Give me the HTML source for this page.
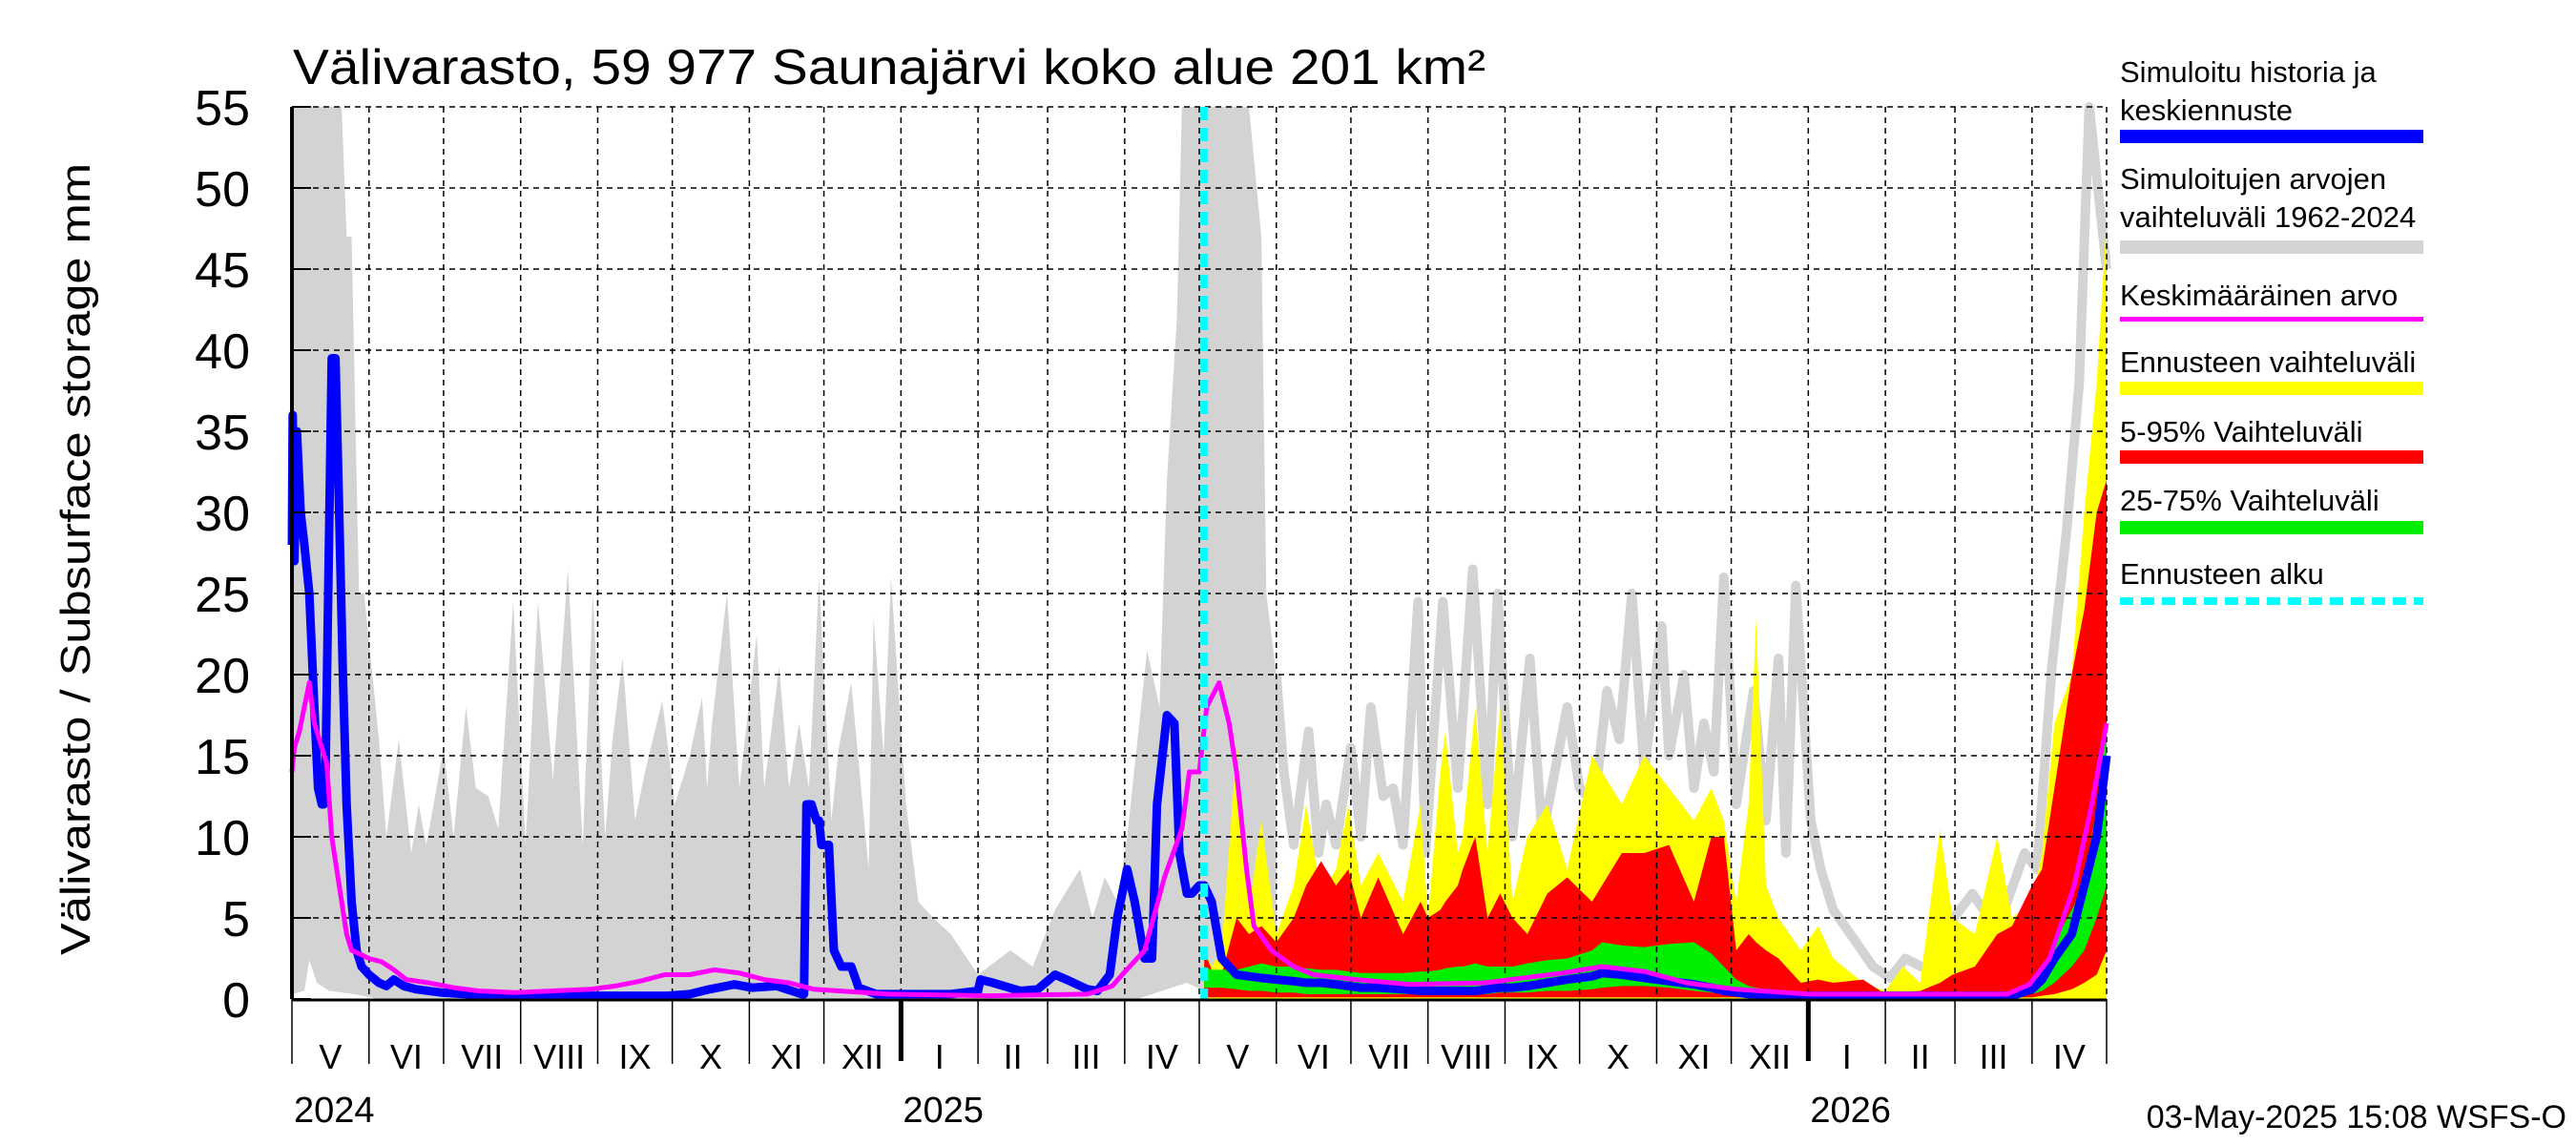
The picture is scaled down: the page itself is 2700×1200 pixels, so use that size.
<!DOCTYPE html>
<html><head><meta charset="utf-8"><style>
html,body{margin:0;padding:0;background:#fff;}
svg{display:block;font-family:"Liberation Sans",Arial,sans-serif;}
</style></head><body>
<svg id="chart" width="2700" height="1200" viewBox="0 0 2700 1200" xmlns="http://www.w3.org/2000/svg">
<rect width="2700" height="1200" fill="#fff"/>
<text x="307" y="88" font-size="52" textLength="1250" lengthAdjust="spacingAndGlyphs">Välivarasto, 59 977 Saunajärvi koko alue 201 km²</text>
<text transform="translate(94,586) rotate(-90)" text-anchor="middle" font-size="44" textLength="830" lengthAdjust="spacingAndGlyphs">Välivarasto / Subsurface storage  mm</text>
<g id="fills"></g><g id="grid"></g><g id="lines"></g><g id="axes"></g>
<g id="legend">
<text x="2222" y="86" font-size="31">Simuloitu historia ja</text>
<text x="2222" y="126" font-size="31">keskiennuste</text>
<rect x="2222" y="136" width="318" height="14" fill="#0000ff"/>
<text x="2222" y="198" font-size="31">Simuloitujen arvojen</text>
<text x="2222" y="238" font-size="31">vaihteluväli 1962-2024</text>
<rect x="2222" y="252" width="318" height="14" fill="#d3d3d3"/>
<text x="2222" y="320" font-size="31">Keskimääräinen arvo</text>
<rect x="2222" y="332" width="318" height="5" fill="#ff00ff"/>
<text x="2222" y="390" font-size="31">Ennusteen vaihteluväli</text>
<rect x="2222" y="400" width="318" height="14" fill="#ffff00"/>
<text x="2222" y="463" font-size="31">5-95% Vaihteluväli</text>
<rect x="2222" y="472" width="318" height="14" fill="#ff0000"/>
<text x="2222" y="535" font-size="31">25-75% Vaihteluväli</text>
<rect x="2222" y="546" width="318" height="14" fill="#00ee00"/>
<text x="2222" y="612" font-size="31">Ennusteen alku</text>
<line x1="2222" y1="630" x2="2540" y2="630" stroke="#00ffff" stroke-width="8" stroke-dasharray="14,8"/>
</g>
<text x="2690" y="1182" text-anchor="end" font-size="34">03-May-2025 15:08 WSFS-O</text>
</svg>
<script>
// ---- data (x = days since 2024-05-01) ----
const yTicks = [0,5,10,15,20,25,30,35,40,45,50,55];
const monthNames = ["V","VI","VII","VIII","IX","X","XI","XII","I","II","III","IV","V","VI","VII","VIII","IX","X","XI","XII","I","II","III","IV"];
const monthStarts = [0,31,61,92,123,153,184,214,245,276,304,335,365,396,426,457,488,518,549,579,610,641,669,700,730];
const yearLabels = ["2024","2025","2026"];
const yearStarts = [0,245,610];
const forecastStartDay = 367;

const greyHistDays = [0,20,22,24,27,29,33,35,38,43,48,51,54,57,61,65,70,74,79,83,89,94,99,105,111,117,121,126,129,133,138,142,149,154,160,165,167,169,175,180,187,190,196,200,204,208,212,217,220,225,232,234,238,241,247,252,258,265,276,289,298,307,317,322,327,332,336,344,349,352,356,358,385,390,392,396];
const greyHistMax = [55,55,47,47,25,25,19,16,10,16,9,12,9.5,12,15.5,10,18,13,12.5,10.5,24.5,9.5,24.5,13.5,26.5,9.5,25,10,16,21,11,14,18.4,12,15,18.6,13,17,25,13,22.5,13,20.5,13,17,13,26,11,15.5,19.5,8,23.5,15,26,12,6,5,4,1.5,3,2,5.5,8,5,7.5,6,10,21.5,18,32,42,55,55,47,25,20];
const greyMinDays = [0,5,7,10,15,25,35,340,350,360,367,380,396];
const greyMinVals = [0.3,0.5,2.4,1,0.5,0.3,0,0,0.5,1,0.5,0.2,0];
const greyFcDays = [396,399,403,409,413,416,420,426,430,434,439,443,447,453,456,463,469,475,481,485,491,498,503,508,513,518,524,529,534,539,544,551,554,560,564,568,572,576,581,588,593,598,601,605,611,615,620,627,636,643,649,658,666,676,685,690,697,702,708,714,719,723,730];
const greyFcMax = [20,14,9.5,16.5,9,12,9.5,15.5,10,18,12.5,13,9.5,24.5,9,24.5,13,26.5,12,25,10,21,10,14,18,13,12,19,16,25,14,23,15,20,13,17,14,26,12,19,11,21,9,25.5,11,8,5.5,4,2,1.3,2.5,1.8,4.5,6.5,4.5,6,9,8,20.5,29,38,55,45];

const histDays = [0,0.3,1,2,3.5,5,7,9,10.5,12,12.8,13.5,16,17.5,19,20.5,22,24,26,28,31,35,38,41,45,50,60,70,85,100,120,140,151,160,168,178,185,195,205,206,207,209,211,212,213,216,218,221,225,228,235,250,265,276,277,282,293,300,307,313,320,324,329,332,336,339,343,346,348,352,355,357,360,362,365,367];
const histVals = [28,36,27,35,30,28,25,18,13,12,12,14,39.5,39.5,30,20,12,6,3,2,1.5,1,0.8,1.2,0.8,0.6,0.4,0.3,0.2,0.2,0.2,0.2,0.2,0.3,0.6,0.9,0.7,0.8,0.3,0.3,12,12,11,11,9.5,9.5,3,2,2,0.7,0.3,0.3,0.3,0.5,1.2,1.0,0.5,0.6,1.5,1.1,0.6,0.5,1.5,5,8,6,2.5,2.5,12,17.5,17,9,6.5,6.5,7,7];

const meanDays = [0,1,3,5,7,9,12,14,16,18,20,22,24,27,31,36,41,46,55,65,75,90,105,120,130,140,150,160,170,180,190,200,210,220,240,280,320,330,334,343,351,358,361,365,368,373,377,380,384,387,394,403,411,428,450,480,511,527,544,561,581,610,690,699,707,717,724,730];
const meanVals = [14,15.5,16.5,18,19.5,17,15.5,14.5,10,8,6,4,3,2.8,2.5,2.3,1.8,1.2,1.0,0.7,0.5,0.4,0.5,0.6,0.8,1.1,1.5,1.5,1.8,1.6,1.2,1.0,0.6,0.5,0.3,0.2,0.3,0.8,1.5,3,7.5,10.5,14,14,18,19.5,17,14,8,4.5,3,2,1.5,1.2,0.9,1.0,1.6,2.0,1.7,1.0,0.6,0.3,0.3,0.9,2.5,7,12,17];

const fcDays = [367,370,374,380,385,390,396,403,408,414,420,425,430,437,447,454,457,462,464,469,471,476,481,486,491,497,505,513,523,527,535,544,554,564,571,576,581,586,589,593,598,607,614,620,632,641,648,655,663,668,677,686,692,700,704,709,716,721,726,730];
const fcMax = [3,2,3,15.5,5.5,11,4,7,12,6.5,8,12,7,9,6,12,5,14,16.5,9,10,18,9,18,6,10,12,8,15,14,12,15,13,11,13,11,6,12,23.5,7,5,3,4.5,2.5,1,0.5,2,1,10.5,5,4,10,5,6,9,17,20,30,38,48];
const fcP95 = [3,1.8,1.5,5,4,4.5,3.5,5,7,8.5,7,8,5,7.5,4,6,5,5.5,6,7,8,10,5,6.5,5,4,6.5,7.5,6,7,9,9,9.5,6,10,10,3,4,3.5,3,2.5,1,1.2,1,1.2,0.3,0.4,0.5,1,1.5,2,4,4.5,7,8,13,20,24,30,32];
const fcP75 = [2,1.8,1.8,1.8,2,2.2,2,2,1.9,1.8,1.8,1.7,1.6,1.6,1.6,1.7,1.7,1.8,1.9,2,2,2.2,2,2,2,2.2,2.4,2.5,3,3.5,3.3,3.2,3.4,3.5,2.8,2,1.2,0.8,0.7,0.6,0.5,0.4,0.3,0.3,0.3,0.3,0.3,0.3,0.3,0.3,0.3,0.3,0.4,1.2,1.8,3.5,5.5,7,12,17];
const fcMedian = [7,6,2.5,1.5,1.4,1.3,1.2,1.1,1.0,1.0,0.9,0.8,0.7,0.7,0.6,0.5,0.5,0.5,0.5,0.5,0.5,0.5,0.6,0.7,0.7,0.8,1.0,1.2,1.4,1.6,1.5,1.3,1.1,0.9,0.7,0.5,0.4,0.3,0.3,0.2,0.2,0.2,0.2,0.2,0.2,0.2,0.2,0.2,0.2,0.2,0.2,0.2,0.2,0.6,1.2,2.5,4,7,10,15];
const fcP25 = [0.7,0.7,0.7,0.6,0.5,0.5,0.4,0.4,0.3,0.3,0.3,0.3,0.3,0.3,0.3,0.3,0.3,0.3,0.3,0.3,0.3,0.3,0.3,0.4,0.4,0.4,0.5,0.5,0.6,0.7,0.8,0.8,0.7,0.5,0.4,0.3,0.2,0.2,0.1,0.1,0.1,0.1,0.1,0.1,0.1,0.1,0.1,0.1,0.1,0.1,0.1,0.1,0.1,0.3,0.5,1,2,3,5,7];
const fcP05 = [0.1,0.1,0.1,0.1,0.1,0.1,0.1,0.1,0.1,0.1,0.1,0.1,0.1,0.1,0.1,0.1,0.1,0.1,0.1,0.1,0.1,0.1,0.1,0.1,0.1,0.1,0.1,0.1,0.1,0.1,0.1,0.1,0.1,0.1,0.1,0.1,0.1,0.1,0.1,0.1,0.1,0.1,0.1,0.1,0.1,0.1,0.1,0.1,0.1,0.1,0.1,0.1,0.1,0.1,0.2,0.3,0.6,1,1.5,3];
const fcMin = [0,0,0,0,0,0,0,0,0,0,0,0,0,0,0,0,0,0,0,0,0,0,0,0,0,0,0,0,0,0,0,0,0,0,0,0,0,0,0,0,0,0,0,0,0,0,0,0,0,0,0,0,0,0,0,0,0,0,0,0];

// ---- axes ----
const PL=306, PR=2208, PT=112, PB=1047, DAYS=730, VMAX=55;
function X(d){return PL + d*(PR-PL)/DAYS;}
function Y(v){return PB - Math.min(v,VMAX)*(PB-PT)/VMAX;}
const NS="http://www.w3.org/2000/svg";
function mk(tag, attrs, parent){const e=document.createElementNS(NS,tag);for(const k in attrs)e.setAttribute(k,attrs[k]);document.getElementById(parent).appendChild(e);return e;}
function linePts(days, vals){const n=Math.min(days.length,vals.length);let s=[];for(let i=0;i<n;i++)s.push(X(days[i]).toFixed(1)+","+Y(vals[i]).toFixed(1));return s;}
function bandPts(days, hi, lo){const a=linePts(days,hi);const b=linePts(days,lo).reverse();return a.concat(b).join(" ");}
function bandPts2(d1,hi,d2,lo){const a=linePts(d1,hi);const b=linePts(d2,lo).reverse();return a.concat(b).join(" ");}

let e;
e=mk("polygon",{points:bandPts2(greyHistDays,greyHistMax,greyMinDays,greyMinVals),fill:"#d3d3d3"},"fills");


e=mk("polyline",{points:linePts(greyFcDays,greyFcMax).join(" "),fill:"none",stroke:"#d3d3d3","stroke-width":10,"stroke-linejoin":"round"},"fills");


e=mk("polygon",{points:bandPts(fcDays,fcMax,fcMin),fill:"#ffff00"},"fills");


e=mk("polygon",{points:bandPts(fcDays,fcP95,fcP05),fill:"#ff0000"},"fills");


e=mk("polygon",{points:bandPts(fcDays,fcP75,fcP25),fill:"#00ee00"},"fills");



// grid
for(const v of yTicks){ if(v===0) continue;
 e=mk("line",{x1:PL,x2:PR,y1:Y(v),y2:Y(v),stroke:"#000","stroke-width":1.5,"stroke-dasharray":"6,5"},"grid");
 
 
}
for(const d of monthStarts){ if(d===0) continue;
 e=mk("line",{x1:X(d),x2:X(d),y1:PT,y2:PB,stroke:"#000","stroke-width":1.5,"stroke-dasharray":"6,5"},"grid");
 
 
}

// lines
e=mk("polyline",{points:linePts(histDays,histVals).concat(linePts(fcDays,fcMedian)).join(" "),fill:"none",stroke:"#0000ff","stroke-width":9,"stroke-linejoin":"round"},"lines");


e=mk("polyline",{points:linePts(meanDays,meanVals).join(" "),fill:"none",stroke:"#ff00ff","stroke-width":5,"stroke-linejoin":"round"},"lines");


e=mk("line",{x1:X(forecastStartDay),x2:X(forecastStartDay),y1:PT,y2:PB,stroke:"#00ffff","stroke-width":8,"stroke-dasharray":"14,8"},"lines");



// axes
e=mk("line",{x1:PL,x2:PL,y1:PT,y2:PB,stroke:"#000","stroke-width":4},"axes");


e=mk("line",{x1:PL,x2:PR,y1:PB+1,y2:PB+1,stroke:"#000","stroke-width":3},"axes");


for(const v of yTicks){
 e=mk("text",{x:262,y:Y(v)+19,"text-anchor":"end","font-size":52},"axes");
 e.textContent=String(v);
 
 
 e=mk("line",{x1:PL,x2:PL+20,y1:Y(v),y2:Y(v),stroke:"#000","stroke-width":2},"axes");
 
 
}
for(let i=0;i<monthStarts.length;i++){
 const d=monthStarts[i];const isYear=yearStarts.indexOf(d)>0;
 e=mk("line",{x1:X(d),x2:X(d),y1:PB,y2:isYear?1112:1115,stroke:"#000","stroke-width":isYear?5:1.5},"axes");
 
 
 if(i<monthNames.length){
  e=mk("text",{x:(X(d)+X(monthStarts[i+1]))/2,y:1120,"text-anchor":"middle","font-size":36},"axes");
  e.textContent=monthNames[i];
  
  
 }
}
for(let i=0;i<yearLabels.length;i++){
 e=mk("text",{x:X(yearStarts[i])+2,y:1176,"font-size":38},"axes");
 e.textContent=yearLabels[i];
 
 
}
</script>
</body></html>
